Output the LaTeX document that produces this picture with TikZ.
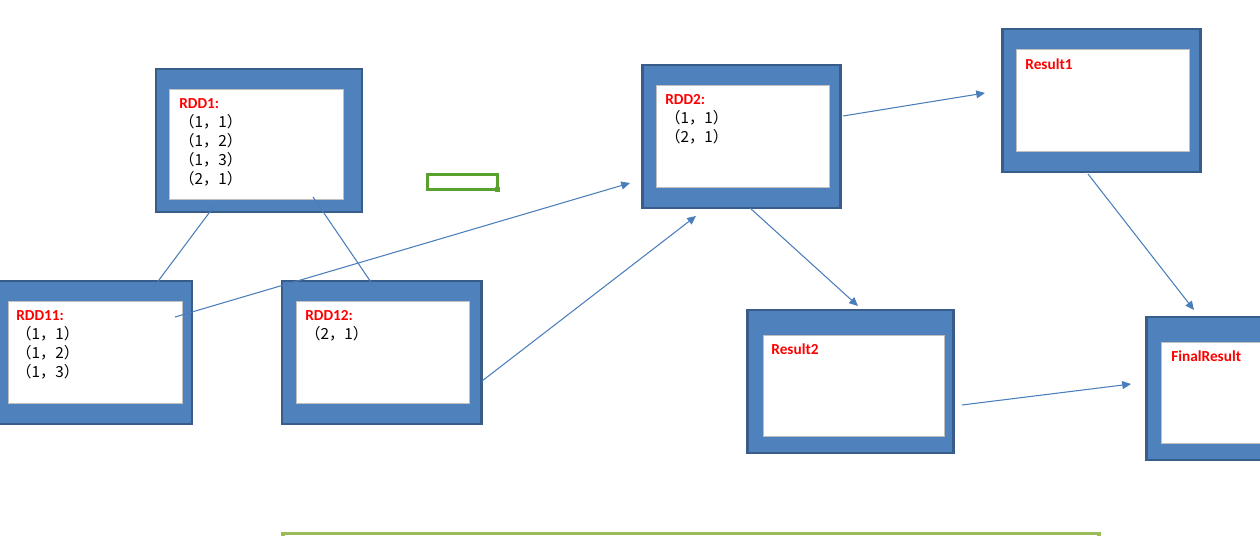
\documentclass[tikz,border=0pt]{standalone}
\usepackage{fontspec}
\setmainfont{Carlito}
\newfontfamily\cjk{Noto Sans CJK SC}
\usetikzlibrary{positioning, arrows.meta, fit}
\definecolor{boxblue}{HTML}{4F81BD}
\definecolor{boxedge}{HTML}{385D8A}
\definecolor{paneedge}{HTML}{BFBFBF}
\definecolor{linkblue}{HTML}{4A7EBB}
\definecolor{cellgreen}{HTML}{5AA02F}
\definecolor{bargreen}{HTML}{9BBB59}
\newcommand{\rddhead}[1]{{\bfseries\color{red}#1}}
\newcommand{\rddpair}[1]{{\cjk #1}}
\tikzset{
  outer/.style ={draw=boxedge, fill=boxblue, line width=1.7pt, inner sep=0pt},
  pane/.style  ={draw=paneedge, fill=white, line width=0.5pt, inner sep=0pt},
  lbl/.style   ={anchor=north west, inner sep=0pt, align=left,
                 font=\fontsize{8.7}{10.8}\selectfont},
  link/.style  ={draw=linkblue, line width=0.6pt},
  flow/.style  ={link, -{Triangle[length=5pt, width=4.5pt]}},
}
\begin{document}
\begin{tikzpicture}[x=0.02cm, y=-0.02cm]
  \useasboundingbox (0,0) rectangle (1260,536);
  \clip (0,0) rectangle (1260,536);
  % boxes
  \node[outer, fit={(156,69) (362,212)}]   (rdd1)  {};
  \node[pane,  fit={(169,89) (343,199)}]   (rdd1in) {};
  \node[outer, fit={(-8,281) (192,424)}]   (rdd11) {};
  \node[pane,  fit={(8,301) (182,403)}]    (rdd11in) {};
  \node[outer, fit={(282,281) (481,424)}]  (rdd12) {};
  \node[pane,  fit={(296,301) (469,403)}]  (rdd12in) {};
  \node[outer, fit={(642,65) (840,208)}]   (rdd2)  {};
  \node[pane,  fit={(656,85) (829,187)}]   (rdd2in) {};
  \node[outer, fit={(1002,29) (1200,172)}] (res1)  {};
  \node[pane,  fit={(1016,49) (1189,151)}] (res1in) {};
  \node[outer, fit={(747,310) (953,453)}]  (res2)  {};
  \node[pane,  fit={(763,335) (944,436)}]  (res2in) {};
  \node[outer, fit={(1146,317) (1346,460)}] (final) {};
  \node[pane,  fit={(1161,342) (1334,443)}] (finalin) {};
  % texts
  \node[lbl] (rdd1t) at (179,98.5)
    {\rddhead{RDD1:}\\\rddpair{（1，1）}\\\rddpair{（1，2）}\\\rddpair{（1，3）}\\\rddpair{（2，1）}};
  \node[lbl] (rdd11t) at (16,310.5)
    {\rddhead{RDD11:}\\\rddpair{（1，1）}\\\rddpair{（1，2）}\\\rddpair{（1，3）}};
  \node[lbl] (rdd12t) at (305,310.5)
    {\rddhead{RDD12:}\\\rddpair{（2，1）}};
  \node[lbl] (rdd2t) at (665,94.5)
    {\rddhead{RDD2:}\\\rddpair{（1，1）}\\\rddpair{（2，1）}};
  \node[lbl] (res1t) at (1025,58) {\rddhead{Result1}};
  \node[lbl] (res2t) at (771,343) {\rddhead{Result2}};
  \node[lbl] (finalt) at (1171,350.5) {\rddhead{FinalResult}};
  % end points
  \coordinate (splitA) at (215,205);
  \coordinate (splitB) at (153,288);
  \coordinate (splitC) at (313,197);
  \coordinate (splitD) at (377,291);
  \coordinate (fromA) at (175,317);
  \coordinate (toA)   at (630,183);
  \coordinate (fromB) at (482,381);
  \coordinate (toB)   at (696,216);
  \coordinate (fromC) at (843,116);
  \coordinate (toC)   at (985,93);
  \coordinate (fromD) at (750,208);
  \coordinate (toD)   at (858,306);
  \coordinate (fromE) at (1088,174);
  \coordinate (toE)   at (1194,310);
  \coordinate (fromF) at (962,405);
  \coordinate (toF)   at (1131,384);
  % links
  \draw[link] (splitA) -- (splitB);
  \draw[link] (splitC) -- (splitD);
  \draw[flow] (fromA) -- (toA);
  \draw[flow] (fromB) -- (toB);
  \draw[flow] (fromC) -- (toC);
  \draw[flow] (fromD) -- (toD);
  \draw[flow] (fromE) -- (toE);
  \draw[flow] (fromF) -- (toF);
  % green marks
  \draw[cellgreen, line width=1.7pt] (427.5,174.5) rectangle (497.5,189.5);
  \fill[cellgreen] (495,187) rectangle (500,192);
  \draw[bargreen, line width=2pt] (283,533.5) rectangle (1099,600);
  \draw[paneedge, line width=0.5pt] (288,536.5) -- (1094,536.5);
\end{tikzpicture}
\end{document}
